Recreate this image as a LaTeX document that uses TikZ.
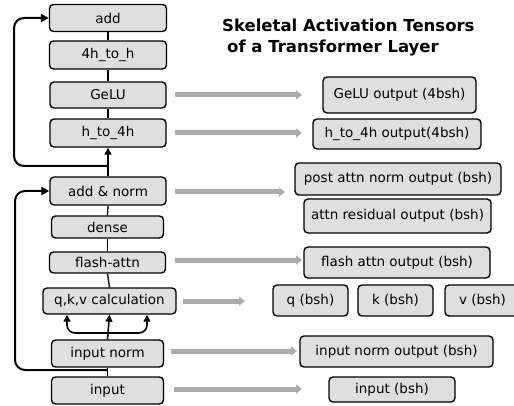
\documentclass[tikz,border=0pt]{standalone}
\usepackage{fontspec}
\setmainfont{DejaVu Sans}
\usetikzlibrary{arrows.meta}
\tikzset{
  box/.style={draw=black, line width=1.4pt, fill=gray!25, rounded corners=4pt,
    inner sep=0pt, font=\fontsize{13.5}{15}\selectfont},
  conn/.style={line width=1.3pt, draw=black},
  loopconn/.style={line width=2pt, draw=black, rounded corners=10pt, -{Triangle[length=8pt,width=8pt]}},
  uparrow/.style={line width=1.6pt, -{Triangle[length=7pt,width=7pt]}},
  greyarrow/.style={line width=5pt, draw=gray!65, -{Triangle[length=6pt,width=9pt]}},
  titlefont/.style={anchor=west, inner sep=0pt, font=\fontsize{16.5}{18}\selectfont\bfseries},
}
\begin{document}
\begin{tikzpicture}[x=1pt,y=-1pt]
\useasboundingbox (0,0) rectangle (514,406);
\clip (0,0) rectangle (514,406);
% left column
\node[box, minimum width=117, minimum height=27] (add) at (108,18) {add};
\node[box, minimum width=117, minimum height=28] (fourh) at (108,55) {4h\_to\_h};
\node[box, minimum width=116, minimum height=26] (gelu) at (108,95) {GeLU};
\node[box, minimum width=116, minimum height=28] (h4h) at (108,133) {h\_to\_4h};
\node[box, minimum width=116, minimum height=28] (addnorm) at (108,191) {add \& norm};
\node[box, minimum width=112, minimum height=22] (dense) at (107.5,227) {dense};
\node[box, minimum width=116, minimum height=21] (flash) at (107.5,262.5) {flash-attn};
\node[box, minimum width=133, minimum height=26] (qkv) at (109.5,301) {q,k,v calculation};
\node[box, minimum width=112, minimum height=27] (inorm) at (107.5,353.5) {input norm};
\node[box, minimum width=112, minimum height=27] (input) at (107.5,390.5) {input};
% right column
\node[box, minimum width=153, minimum height=36] (geluout) at (399.5,95) {GeLU output (4bsh)};
\node[box, minimum width=168, minimum height=30] (h4hout) at (397,134) {h\_to\_4h output(4bsh)};
\node[box, minimum width=206, minimum height=32] (postout) at (398,179) {post attn norm output (bsh)};
\node[box, minimum width=187, minimum height=34] (resout) at (397.5,216) {attn residual output (bsh)};
\node[box, minimum width=186, minimum height=31] (flashout) at (397,262.5) {flash attn output (bsh)};
\node[box, minimum width=75, minimum height=31] (qout) at (310.5,300.5) {q (bsh)};
\node[box, minimum width=75, minimum height=31] (kout) at (395.5,300.5) {k (bsh)};
\node[box, minimum width=75, minimum height=31] (vout) at (482.5,300.5) {v (bsh)};
\node[box, minimum width=193, minimum height=31] (inormout) at (396.5,351.5) {input norm output (bsh)};
\node[box, minimum width=126, minimum height=25] (inputout) at (392,389.5) {input (bsh)};
% title
\node[titlefont] (t1) at (222,25) {Skeletal Activation Tensors};
\node[titlefont] (t2) at (227,48) {of a Transformer Layer};
% vertical connectors
\draw[conn] (input.north) -- (inorm.south);
\draw[conn, uparrow] (inorm.north) -- (qkv.south);
\draw[{Triangle[length=7pt,width=7pt]}-{Triangle[length=7pt,width=7pt]}, line width=1.6pt, rounded corners=8pt]
  (qkv.south -| 67,0) -- (67,333) -- (147,333) -- (qkv.south -| 147,0);
\draw[conn] (qkv.north) -- (flash.south);
\draw[conn] (flash.north) -- (dense.south);
\draw[conn] (dense.north) -- (addnorm.south);
\draw[conn, uparrow] (addnorm.north) -- (h4h.south);
\draw[conn] (h4h.north) -- (gelu.south);
\draw[conn] (gelu.north) -- (fourh.south);
\draw[conn] (fourh.north) -- (add.south);
% residual loops
\coordinate (b1) at (107.5,166);
\coordinate (b2) at (107.5,370);
\draw[loopconn] (b1) -- (14,166) -- (14,18) -- (add.west);
\draw[loopconn] (b2) -- (15,370) -- (15,191) -- (addnorm.west);
% grey arrows
\coordinate (e1) at (302,95);
\coordinate (e2) at (302,133);
\coordinate (e3) at (285,192);
\coordinate (e4) at (302,260);
\coordinate (e5) at (245,301);
\coordinate (e6) at (297,351);
\coordinate (e7) at (302,389);
\draw[greyarrow] (gelu.east) ++(8,0) -- (e1);
\draw[greyarrow] (h4h.east) ++(8,0) -- (e2);
\draw[greyarrow] (addnorm.east) ++(8,1) -- (e3);
\draw[greyarrow] (flash.east) ++(9,-2.5) -- (e4);
\draw[greyarrow] (qkv.east) ++(6,0) -- (e5);
\draw[greyarrow] (inorm.east) ++(7,-2.5) -- (e6);
\draw[greyarrow] (input.east) ++(10,-1.5) -- (e7);
\end{tikzpicture}
\end{document}
